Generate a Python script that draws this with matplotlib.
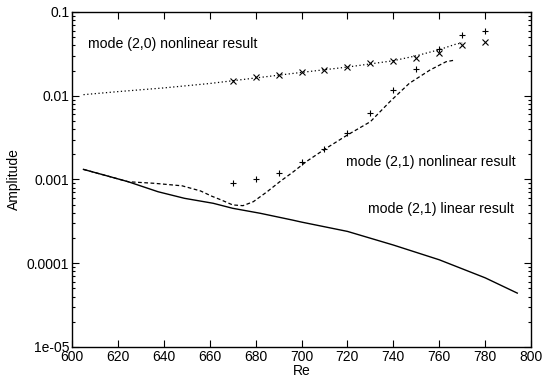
import numpy as np
import matplotlib.pyplot as plt
from matplotlib.ticker import LogLocator, NullFormatter, FixedLocator, FixedFormatter

plt.rcParams['font.family'] = ['Liberation Sans', 'DejaVu Sans']

# mode (2,1) linear result (solid)
re_lin = [605, 615, 624.5, 637.5, 649, 661.5, 670, 682, 696, 700, 720, 740,
          760, 780, 794]
amp_lin = [0.00132, 0.00111, 0.00094, 0.000714, 0.000596, 0.00052, 0.000453,
           0.000395, 0.000328, 0.00031, 0.00024, 0.000165, 0.00011, 6.7e-5, 4.4e-5]

# mode (2,1) nonlinear curve (dashed)
re_n21 = [605, 615, 624.5, 636, 648, 656, 661, 665, 670, 674.5, 679, 685,
          690.5, 696.5, 702, 710, 720, 730, 738.5, 747, 756, 763, 767]
amp_n21 = [0.00132, 0.00111, 0.00094, 0.00090, 0.00084, 0.00073, 0.00063,
           0.00057, 0.000497, 0.000487, 0.000543, 0.000714, 0.00094, 0.00124,
           0.00163, 0.00229, 0.0034, 0.0049, 0.0085, 0.0141, 0.0203, 0.0255,
           0.0267]

# mode (2,0) nonlinear curve (dotted)
re_n20 = [605, 620, 640, 660, 680, 700, 720, 730, 740, 750, 760, 767, 770]
amp_n20 = [0.0103, 0.0112, 0.0124, 0.0140, 0.0163, 0.0190, 0.0220, 0.0240,
           0.0262, 0.0300, 0.0355, 0.0411, 0.0428]

# point data
re_pts = [670, 680, 690, 700, 710, 720, 730, 740, 750, 760, 770, 780]
amp_x = [0.0150, 0.0166, 0.0178, 0.0190, 0.0205, 0.0222, 0.0244, 0.0262,
         0.0280, 0.0326, 0.0404, 0.0435]
amp_plus = [0.0009, 0.0010, 0.0012, 0.00163, 0.00234, 0.00356, 0.00628,
            0.0117, 0.0210, 0.0360, 0.0526, 0.0587]

fig = plt.figure(figsize=(5.43, 3.83), dpi=100)
ax = fig.add_axes([0.1326, 0.094, 0.8454, 0.8747])

ax.plot(re_lin, amp_lin, color='black', lw=1.0)
ax.plot(re_n21, amp_n21, color='black', lw=0.9, linestyle=(0, (3, 2)))
ax.plot(re_n20, amp_n20, color='black', lw=0.9, linestyle=(0, (1, 2)))
ax.plot(re_pts, amp_x, linestyle='none', marker='x', ms=4.5, mew=0.8, color='black')
ax.plot(re_pts, amp_plus, linestyle='none', marker='+', ms=5, mew=0.8, color='black')

ax.set_yscale('log')
ax.set_xlim(600, 800)
ax.set_ylim(1e-5, 0.1)
ax.set_xticks(np.arange(600, 801, 20))
ax.yaxis.set_major_locator(FixedLocator([1e-5, 1e-4, 1e-3, 1e-2, 1e-1]))
ax.yaxis.set_major_formatter(FixedFormatter(['1e-05', '0.0001', '0.001', '0.01', '0.1']))
ax.yaxis.set_minor_locator(LogLocator(base=10, subs=np.arange(2, 10)))
ax.yaxis.set_minor_formatter(NullFormatter())

ax.tick_params(which='both', direction='in', top=True, right=True,
               labelsize=10, pad=2, width=0.8)
ax.tick_params(which='major', length=5)
ax.tick_params(which='minor', length=2.5)
for s in ax.spines.values():
    s.set_linewidth(1.0)

ax.set_xlabel('Re', fontsize=10, labelpad=0)
ax.set_ylabel('Amplitude', fontsize=10, labelpad=4)

ax.text(607, 0.041, 'mode (2,0) nonlinear result', fontsize=10.2, va='center')
ax.text(719.5, 0.0016, 'mode (2,1) nonlinear result', fontsize=10.2, va='center')
ax.text(729, 0.00045, 'mode (2,1) linear result', fontsize=10.2, va='center')

fig.savefig('out.png', dpi=100)
